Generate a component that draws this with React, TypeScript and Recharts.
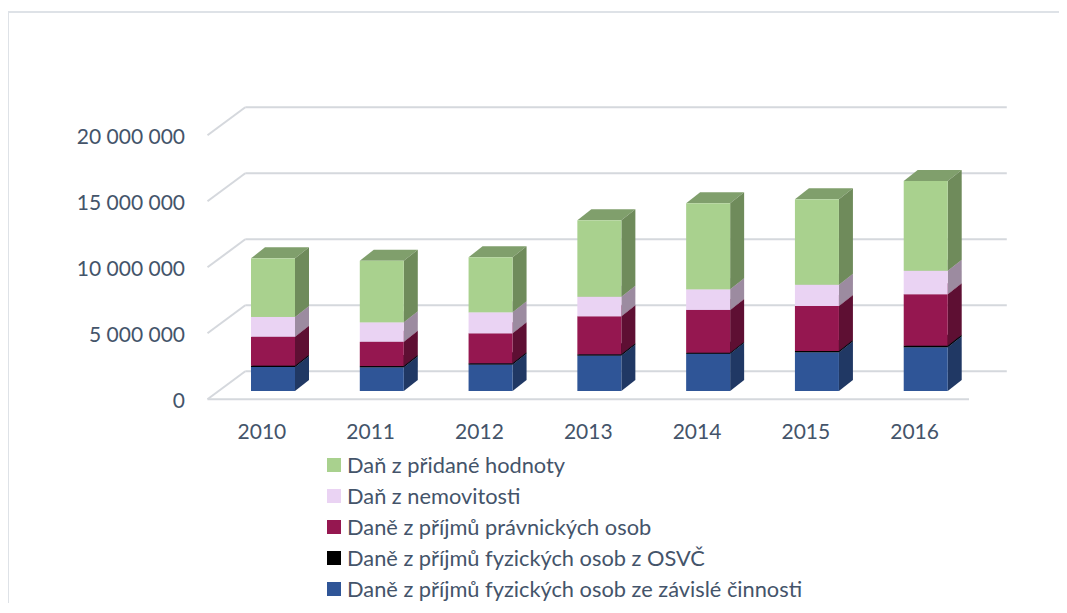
import React from "react";
import { BarChart, Bar, XAxis, YAxis, CartesianGrid, Legend } from "recharts";

const years = ["2010", "2011", "2012", "2013", "2014", "2015", "2016"];

const zavislaCinnost = [1820000, 1790000, 2000000, 2680000, 2820000, 2930000, 3310000];
const osvc = [100000, 100000, 100000, 100000, 80000, 100000, 120000];
const pravnickeOsoby = [2190000, 1840000, 2270000, 2880000, 3240000, 3410000, 3900000];
const nemovitosti = [1500000, 1470000, 1590000, 1480000, 1560000, 1610000, 1780000];
const dph = [4440000, 4670000, 4170000, 5790000, 6520000, 6470000, 6800000];

const yTicks = [0, 5000000, 10000000, 15000000, 20000000];

// pořadí zespodu nahoru (jak se stohuje)
const series = [
  { key: "zavisla", name: "Daně z příjmů fyzických osob ze závislé činnosti", front: "#2F5597", side: "#203864", top: "#284a82" },
  { key: "osvc", name: "Daně z příjmů fyzických osob z OSVČ", front: "#000000", side: "#000000", top: "#000000" },
  { key: "pravnicke", name: "Daně z příjmů právnických osob", front: "#951750", side: "#5E0F33", top: "#7a1342" },
  { key: "nemovitosti", name: "Daň z nemovitosti", front: "#EAD3F3", side: "#9C8BA0", top: "#c3b0ca" },
  { key: "dph", name: "Daň z přidané hodnoty", front: "#A9D18E", side: "#6F8B5B", top: "#809F6C" },
];

const data = years.map((rok, i) => ({
  rok,
  zavisla: zavislaCinnost[i],
  osvc: osvc[i],
  pravnicke: pravnickeOsoby[i],
  nemovitosti: nemovitosti[i],
  dph: dph[i],
}));

const TEXT = "#44546A";
const FONT = "Lato, 'Open Sans', sans-serif";
const GRID = "#D5D8DD";

// 3D posun: hloubka sloupce a posun stěny grafu
const BAR_DX = 14;
const BAR_DY = 11;
const FRONT_DX = -11.5;
const FRONT_DY = 8.3;
const BACK_DX = 26.3;
const BACK_DY = -19.7;

const fmt = (v: number) => String(v).replace(/\B(?=(\d{3})+(?!\d))/g, " ");

function Box3D(props: any) {
  const { x, y, width, height, s } = props;
  if (width == null || height == null || height <= 0) return null;
  const w = width;
  const h = height;
  return (
    <g>
      <polygon
        points={`${x},${y} ${x + BAR_DX},${y - BAR_DY} ${x + w + BAR_DX},${y - BAR_DY} ${x + w},${y}`}
        fill={s.top}
      />
      <polygon
        points={`${x + w},${y} ${x + w + BAR_DX},${y - BAR_DY} ${x + w + BAR_DX},${y + h - BAR_DY} ${x + w},${y + h}`}
        fill={s.side}
      />
      <rect x={x} y={y} width={w} height={h} fill={s.front} />
    </g>
  );
}

function GridLine(props: any) {
  const { x1, x2, y1, index } = props;
  return (
    <g key={`g-${index}`}>
      <line x1={x1 + BACK_DX} y1={y1 + BACK_DY} x2={x2 + BACK_DX} y2={y1 + BACK_DY} stroke={GRID} strokeWidth={2} />
      <line x1={x1 + FRONT_DX} y1={y1 + FRONT_DY} x2={x1 + BACK_DX} y2={y1 + BACK_DY} stroke={GRID} strokeWidth={2} />
      {index === 0 && (
        <line x1={x1 + FRONT_DX} y1={y1 + FRONT_DY} x2={x2 + FRONT_DX} y2={y1 + FRONT_DY} stroke={GRID} strokeWidth={2} />
      )}
    </g>
  );
}

function YTick(props: any) {
  const { x, y, payload } = props;
  return (
    <text x={x} y={y + 8.5} textAnchor="end" dominantBaseline="central" fill={TEXT} fontSize={21} fontFamily={FONT}>
      {fmt(payload.value)}
    </text>
  );
}

function XTick(props: any) {
  const { x, y, payload } = props;
  return (
    <text x={x + FRONT_DX} y={y + 37.5} textAnchor="middle" dominantBaseline="central" fill={TEXT} fontSize={21} fontFamily={FONT}>
      {payload.value}
    </text>
  );
}

function LegendBox() {
  const items = [...series].reverse();
  return (
    <div style={{ fontFamily: FONT, fontSize: 21.8, color: TEXT }}>
      {items.map((s) => (
        <div key={s.key} style={{ display: "flex", alignItems: "center", height: 31, whiteSpace: "nowrap" }}>
          <span style={{ width: 14, height: 14, background: s.front, marginRight: 6, flex: "none" }} />
          {s.name}
        </div>
      ))}
    </div>
  );
}

export default function App() {
  return (
    <div style={{ position: "relative", width: 1059, height: 595, overflow: "hidden" }}>
      <div
        style={{
          position: "absolute",
          left: -1,
          top: 3,
          width: 1100,
          height: 700,
          borderTop: "2px solid #DEE2E7",
          borderLeft: "2px solid #DEE2E7",
        }}
      />
      <BarChart
        width={1059}
        height={595}
        data={data}
        margin={{ top: 119, right: 86.5, bottom: 172, left: 0 }}
        barSize={44}
      >
        <CartesianGrid vertical={false} horizontal={(p: any) => <GridLine {...p} />} />
        <XAxis dataKey="rok" height={40} tickLine={false} axisLine={false} tickSize={0} tick={<XTick />} interval={0} />
        <YAxis
          width={211}
          domain={[0, 20000000]}
          ticks={yTicks}
          interval={0}
          tickLine={false}
          axisLine={false}
          tickSize={0}
          tickMargin={34}
          tick={<YTick />}
        />
        <Legend
          layout="vertical"
          align="center"
          verticalAlign="middle"
          content={<LegendBox />}
          wrapperStyle={{ left: 319, top: 441, width: 720, height: 160 }}
        />
        {series.map((s) => (
          <Bar
            key={s.key}
            dataKey={s.key}
            name={s.name}
            stackId="a"
            fill={s.front}
            isAnimationActive={false}
            shape={(p: any) => <Box3D {...p} s={s} />}
          />
        ))}
      </BarChart>
    </div>
  );
}
